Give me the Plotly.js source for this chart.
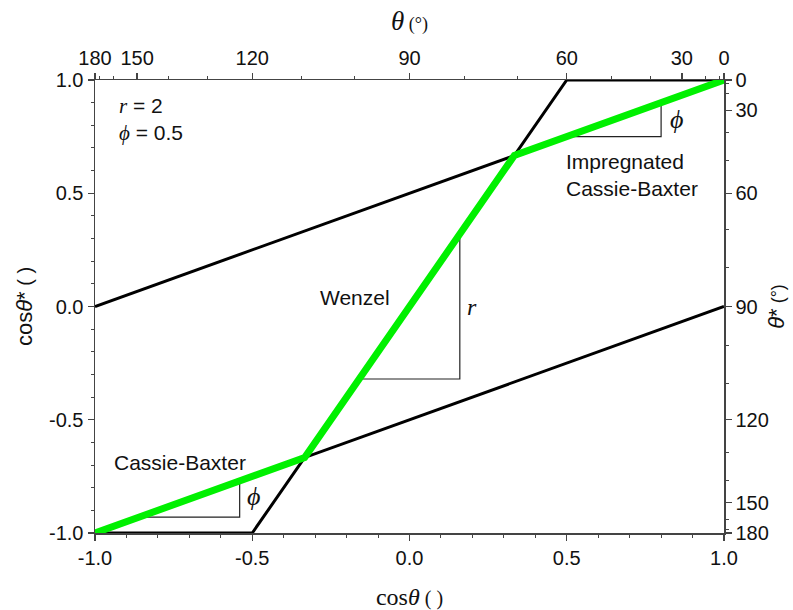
<!DOCTYPE html>
<html>
<head>
<meta charset="utf-8">
<script src="https://cdn.plot.ly/plotly-3.0.1.min.js"></script>
<style>html,body{margin:0;padding:0;background:#fff;}#chart{width:793px;height:610px;}</style>
</head>
<body>
<div id="chart"></div>
<script>
// Data
const wenzelX = [-1, -0.5, 0.5, 1];
const wenzelY = [-1, -1, 1, 1];
const cassieX = [-1, 1];
const cassieY = [-1, 0];
const impregX = [-1, 1];
const impregY = [0, 1];
const greenX = [-1, -1/3, 1/3, 1];
const greenY = [-1, -2/3, 2/3, 1];
const triCBX = [-0.86, -0.54, -0.54];
const triCBY = [-0.93, -0.93, -0.77];
const triWX = [-0.16, 0.16, 0.16];
const triWY = [-0.32, -0.32, 0.32];
const triICBX = [0.5, 0.8, 0.8];
const triICBY = [0.75, 0.75, 0.9];
const angleMajor = [180, 150, 120, 90, 60, 30, 0];
const angleMinor = [170, 160, 140, 130, 110, 100, 80, 70, 50, 40, 20, 10];
const angleLabels = ['180', '150', '120', '90', '60', '30', '0'];

const rad = d => Math.cos(d * Math.PI / 180);
const majorVals = angleMajor.map(rad);
const minorVals = angleMinor.map(rad);

const black = '#000000';
const axisCol = '#444444';
const traces = [
  {x: wenzelX, y: wenzelY, mode: 'lines', line: {color: black, width: 3}, hoverinfo: 'skip'},
  {x: cassieX, y: cassieY, mode: 'lines', line: {color: black, width: 3}, hoverinfo: 'skip'},
  {x: impregX, y: impregY, mode: 'lines', line: {color: black, width: 3}, hoverinfo: 'skip'},
  {x: triCBX, y: triCBY, mode: 'lines', line: {color: '#222', width: 1.2}, hoverinfo: 'skip'},
  {x: triWX, y: triWY, mode: 'lines', line: {color: '#222', width: 1.2}, hoverinfo: 'skip'},
  {x: triICBX, y: triICBY, mode: 'lines', line: {color: '#222', width: 1.2}, hoverinfo: 'skip'},
  {x: greenX, y: greenY, mode: 'lines', line: {color: 'rgb(0,240,0)', width: 7}, hoverinfo: 'skip'},
  {x: [cassieX[0], cassieX[1]], y: [cassieY[0], impregY[1]], xaxis: 'x2', yaxis: 'y2', mode: 'none', hoverinfo: 'skip'}
];

const sans = 'Liberation Sans, Arial, sans-serif';
const serif = 'Liberation Serif, Times New Roman, serif';
const tickFont = {family: sans, size: 20, color: '#111'};
const baseAxis = {
  range: [-1, 1], showgrid: false, zeroline: false, showline: true, linecolor: axisCol, linewidth: 1.5,
  ticks: 'outside', ticklen: 6, tickwidth: 1.3, tickcolor: axisCol, tickfont: tickFont
};

const layout = {
  width: 793, height: 610,
  margin: {l: 95, r: 69, t: 80, b: 77},
  paper_bgcolor: '#fff', plot_bgcolor: '#fff',
  showlegend: false,
  xaxis: Object.assign({}, baseAxis, {
    tickvals: [-1, -0.5, 0, 0.5, 1], ticktext: ['-1.0', '-0.5', '0.0', '0.5', '1.0'],
    minor: {dtick: 0.1, ticks: 'outside', ticklen: 3, tickcolor: axisCol, tickwidth: 1},
    title: {text: 'cos<i>θ</i><span style="font-size:20px"> ( )</span>', font: {family: serif, size: 24, color: '#111'}, standoff: 20}
  }),
  yaxis: Object.assign({}, baseAxis, {
    tickvals: [-1, -0.5, 0, 0.5, 1], ticktext: ['-1.0', '-0.5', '0.0', '0.5', '1.0'],
    minor: {dtick: 0.1, ticks: 'outside', ticklen: 3, tickcolor: axisCol, tickwidth: 1},
    title: {text: 'cos<i>θ</i>*<span style="font-size:20px"> ( )</span>', font: {family: sans, size: 22, color: '#111'}, standoff: 10}
  }),
  xaxis2: Object.assign({}, baseAxis, {
    overlaying: 'x', side: 'top', anchor: 'y2',
    tickmode: 'array', tickvals: majorVals, ticktext: angleLabels,
    minor: {tickmode: 'array', tickvals: minorVals, ticks: 'outside', ticklen: 3, tickcolor: axisCol, tickwidth: 1},
    title: {text: '<i>θ</i><span style="font-size:18px"> (°)</span>', font: {family: serif, size: 27, color: '#111'}, standoff: 8}
  }),
  yaxis2: Object.assign({}, baseAxis, {
    overlaying: 'y', side: 'right', anchor: 'x2',
    tickmode: 'array', tickvals: majorVals, ticktext: angleLabels,
    minor: {tickmode: 'array', tickvals: minorVals, ticks: 'outside', ticklen: 3, tickcolor: axisCol, tickwidth: 1},
    title: {text: '<i>θ</i>*<span style="font-size:18px"> (°)</span>', font: {family: sans, size: 22, color: '#111'}, standoff: 0}
  }),
  annotations: [
    {x: -0.93, y: 0.885, xanchor: 'left', text: '<i><span style="font-family:Liberation Serif">r</span></i> = 2', showarrow: false, font: {family: sans, size: 21, color: '#111'}},
    {x: -0.93, y: 0.765, xanchor: 'left', text: '<i><span style="font-family:Liberation Serif">ϕ</span></i> = 0.5', showarrow: false, font: {family: sans, size: 21, color: '#111'}},
    {x: -0.173, y: 0.04, text: 'Wenzel', showarrow: false, font: {family: sans, size: 21, color: '#111'}},
    {x: 0.2, y: 0.0, text: '<i>r</i>', showarrow: false, font: {family: serif, size: 24, color: '#111'}},
    {x: 0.85, y: 0.825, text: '<i>ϕ</i>', showarrow: false, font: {family: serif, size: 26, color: '#111'}},
    {x: -0.495, y: -0.84, text: '<i>ϕ</i>', showarrow: false, font: {family: serif, size: 26, color: '#111'}},
    {x: 0.49, y: 0.58, xanchor: 'left', align: 'left', text: 'Impregnated<br>Cassie-Baxter', showarrow: false, font: {family: sans, size: 21, color: '#111'}},
    {x: -0.945, y: -0.687, xanchor: 'left', text: 'Cassie-Baxter', showarrow: false, font: {family: sans, size: 21, color: '#111'}}
  ]
};

Plotly.newPlot('chart', traces, layout, {staticPlot: true, displayModeBar: false});
</script>
</body>
</html>
